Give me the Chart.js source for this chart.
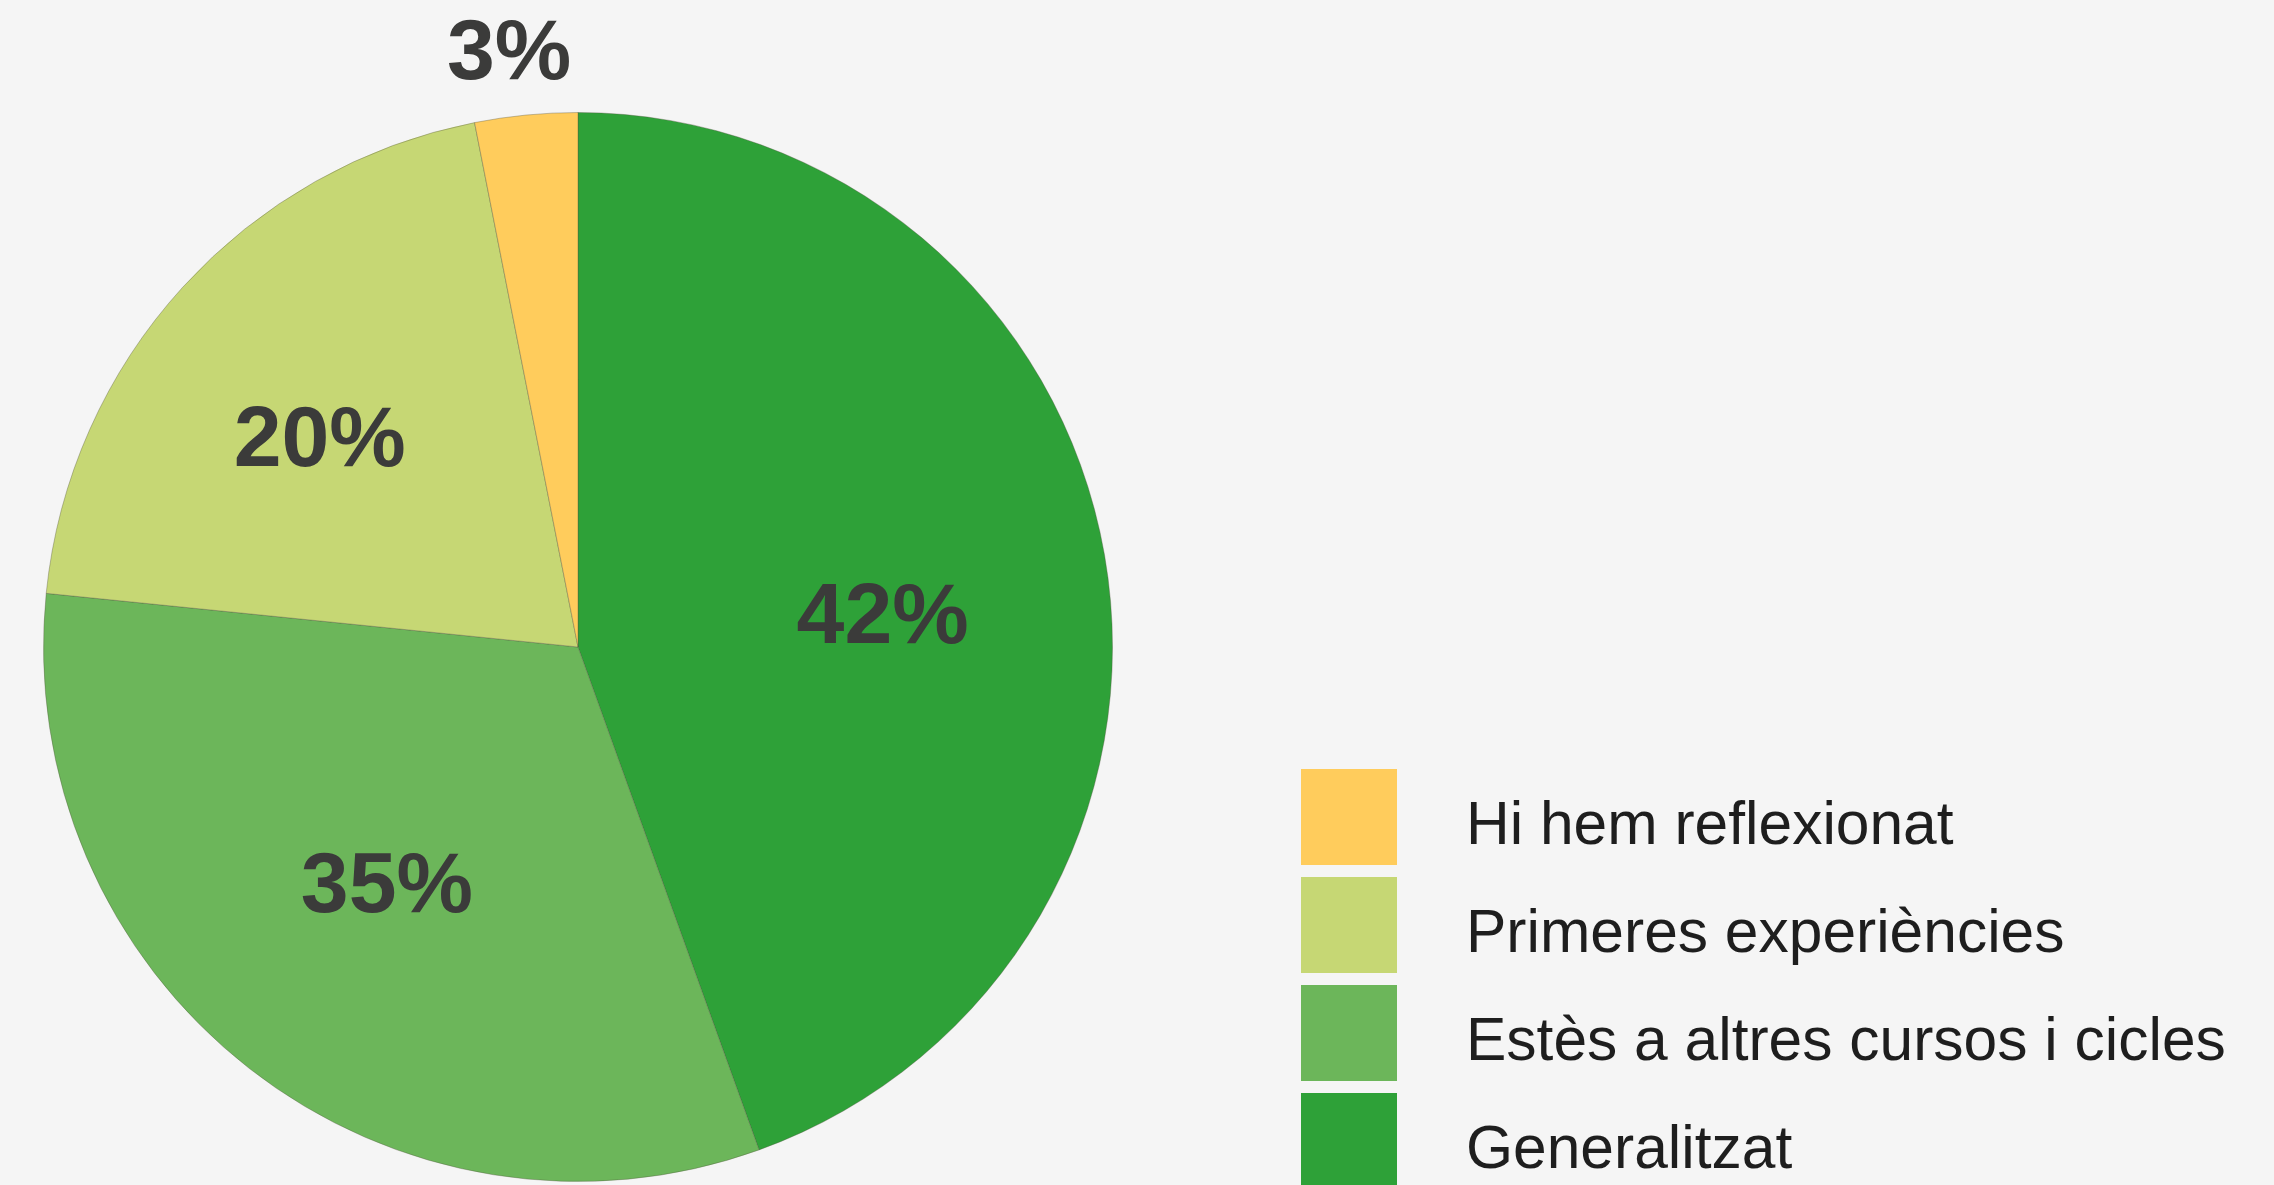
<!DOCTYPE html>
<html>
<head>
<meta charset="utf-8">
<script src="https://cdn.jsdelivr.net/npm/chart.js@4.4.0/dist/chart.umd.min.js"></script>
<style>
  html, body { margin: 0; padding: 0; background: #f5f5f5; }
  body { width: 2274px; height: 1185px; position: relative; overflow: hidden; font-family: "Liberation Sans", Arial, sans-serif; }
  #pie-wrap { position: absolute; left: 0; top: 0; width: 1156px; height: 1185px; }
  #legend { position: absolute; left: 1301px; top: 769px; }
  .item { display: flex; align-items: center; height: 96px; margin-bottom: 12px; }
  .box { width: 96px; height: 96px; }
  .txt { margin-left: 69px; font-size: 60.5px; color: #1e1e1e; white-space: nowrap; position: relative; top: 6px; }
</style>
</head>
<body>
<div id="pie-wrap"><canvas id="pie"></canvas></div>
<div id="legend"></div>
<script>
// slices clockwise from the top
const categories = ['Generalitzat', 'Estès a altres cursos i cicles', 'Primeres experiències', 'Hi hem reflexionat'];
const sliceValues = [44.5, 32.1, 20.3, 3.1];
const labelTexts = ['42%', '35%', '20%', '3%'];
const colors = ['#2ea138', '#6cb65a', '#c6d774', '#ffcc5c'];

// percentage labels drawn on / outside the slices
const labelNudge = [[-6, 26], [3, -7], [-25, 8], [-11, 0]];
const pieLabels = {
    id: 'pieLabels',
    afterDatasetsDraw(chart) {
        const ctx = chart.ctx;
        const arcs = chart.getDatasetMeta(0).data;
        ctx.save();
        ctx.font = 'bold 86px "Liberation Sans", Arial, sans-serif';
        ctx.fillStyle = '#3b3b3a';
        ctx.textAlign = 'center';
        ctx.textBaseline = 'middle';
        arcs.forEach((arc, i) => {
            const mid = (arc.startAngle + arc.endAngle) / 2;
            const share = (arc.endAngle - arc.startAngle) / (2 * Math.PI);
            const r = share < 0.05 ? arc.outerRadius + 60 : arc.outerRadius * 0.59;
            const [nx, ny] = labelNudge[i];
            ctx.fillText(labelTexts[i], arc.x + Math.cos(mid) * r + nx, arc.y + Math.sin(mid) * r + ny);
        });
        ctx.restore();
    }
};

new Chart(document.getElementById('pie').getContext('2d'), {
    type: 'pie',
    data: {
        labels: categories,
        datasets: [{
            data: sliceValues,
            backgroundColor: colors,
            borderColor: 'rgba(80, 80, 60, 0.35)',
            borderWidth: 1
        }]
    },
    options: {
        responsive: true,
        maintainAspectRatio: false,
        animation: false,
        layout: { padding: { top: 112, bottom: 3, left: 43, right: 43 } },
        plugins: {
            legend: { display: false },
            tooltip: { enabled: false }
        }
    },
    plugins: [pieLabels]
});

// legend, bottom-right, reversed order
const legend = document.getElementById('legend');
categories.slice().reverse().forEach((name, k) => {
    const i = categories.length - 1 - k;
    const item = document.createElement('div');
    item.className = 'item';
    item.innerHTML = '<div class="box" style="background:' + colors[i] + '"></div><div class="txt">' + name + '</div>';
    legend.appendChild(item);
});
</script>
</body>
</html>
